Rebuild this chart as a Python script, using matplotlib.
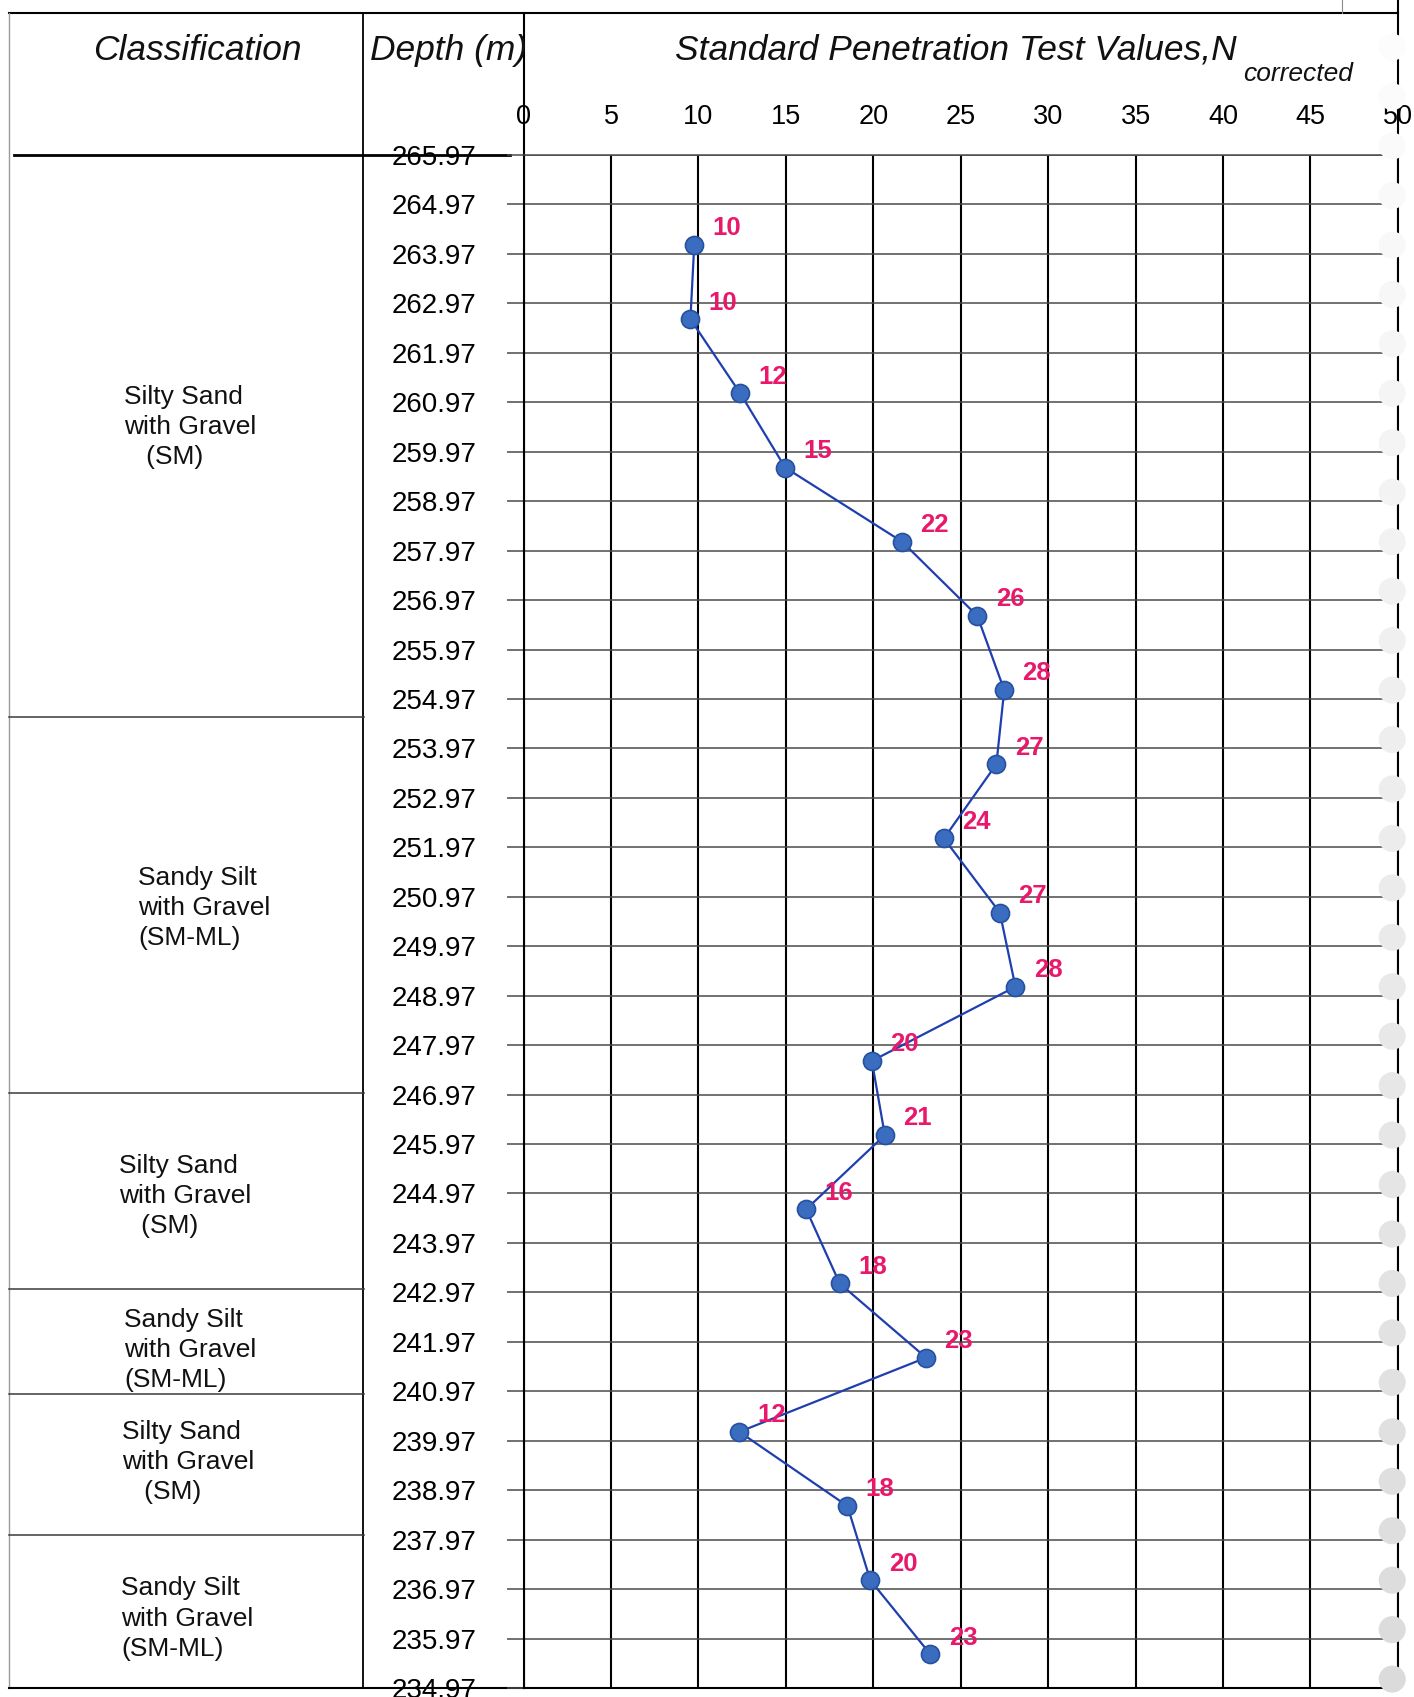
import matplotlib
matplotlib.use("Agg")
import matplotlib.pyplot as plt
from matplotlib.transforms import blended_transform_factory
import numpy as np

plt.rcParams['font.family'] = ['Liberation Sans', 'DejaVu Sans']

# ---------------- data ----------------
elevation = [264.15, 262.65, 261.15, 259.65, 258.15, 256.65, 255.15, 253.65, 252.15, 250.65,
             249.15, 247.65, 246.15, 244.65, 243.15, 241.65, 240.15, 238.65, 237.15, 235.65]
n_corrected = [9.76, 9.54, 12.39, 14.96, 21.65, 25.95, 27.49, 27.04, 24.04, 27.24,
               28.13, 19.92, 20.66, 16.16, 18.08, 23.02, 12.34, 18.52, 19.83, 23.27]
n_labels = [10, 10, 12, 15, 22, 26, 28, 27, 24, 27, 28, 20, 21, 16, 18, 23, 12, 18, 20, 23]

depth_ticks = [265.97, 264.97, 263.97, 262.97, 261.97, 260.97, 259.97, 258.97, 257.97, 256.97,
               255.97, 254.97, 253.97, 252.97, 251.97, 250.97, 249.97, 248.97, 247.97, 246.97,
               245.97, 244.97, 243.97, 242.97, 241.97, 240.97, 239.97, 238.97, 237.97, 236.97,
               235.97, 234.97]
n_ticks = [0, 5, 10, 15, 20, 25, 30, 35, 40, 45, 50]

layer_names = ["Silty Sand\nwith Gravel\n   (SM)",
               "Sandy Silt\nwith Gravel\n(SM-ML)",
               "Silty Sand\nwith Gravel\n   (SM)",
               "Sandy Silt\nwith Gravel\n(SM-ML)",
               "Silty Sand\nwith Gravel\n   (SM)",
               "Sandy Silt\nwith Gravel\n(SM-ML)"]
layer_boundaries = [254.61, 247.00, 243.03, 240.91, 238.06]

# ---------------- layout ----------------
W, H = 1414, 1697
fig = plt.figure(figsize=(W / 100, H / 100), dpi=100)

ax_left, ax_right = 523.6, 1397.8
ax_top, ax_bottom = 155.0, 1688.0
ax = fig.add_axes([ax_left / W, 1 - ax_bottom / H, (ax_right - ax_left) / W,
                   (ax_bottom - ax_top) / H])

# overlay in pixel coordinates
ov = fig.add_axes([0, 0, 1, 1], zorder=-1)
ov.set_xlim(0, W)
ov.set_ylim(H, 0)
ov.axis('off')

ax.set_xlim(0, 50)
ax.set_ylim(234.97, 265.97)
ax.set_xticks(n_ticks)
ax.set_xticklabels([str(t) for t in n_ticks])
ax.set_yticks(depth_ticks)
ax.set_yticklabels([f"{d:.2f}" for d in depth_ticks])
ax.xaxis.tick_top()
ax.tick_params(axis='x', length=0, pad=18, labelsize=19.5)
ax.tick_params(axis='y', length=12, width=1.1, color='#4a4a4a', pad=22, labelsize=20)
ax.grid(axis='x', color='black', lw=1.5)
ax.grid(axis='y', color='#4a4a4a', lw=1.1)
ax.set_axisbelow(True)
for side in ['left', 'right', 'bottom']:
    ax.spines[side].set_color('black')
    ax.spines[side].set_linewidth(1.5)
ax.spines['top'].set_color('#4a4a4a')
ax.spines['top'].set_linewidth(1.1)
ax.patch.set_alpha(0)

# data line
ax.plot(n_corrected, elevation, color='#1F3FB0', lw=1.6, marker='o', ms=13,
        mfc='#3A6CC0', mec='#25519F', mew=1.2, zorder=4)
for x, y, lab in zip(n_corrected, elevation, n_labels):
    ax.annotate(str(lab), (x, y), xytext=(23.5, 12), textcoords='offset points',
                ha='center', va='center', color='#E8196B', fontsize=18.5,
                fontweight='bold', zorder=5)

# table lines (pixel coords)
ov.plot([9, 1398], [13, 13], color='black', lw=1.5)
ov.plot([ax_left, ax_left], [13, ax_top], color='black', lw=1.5)
ov.plot([ax_right, ax_right], [0, ax_top], color='black', lw=1.5)
ov.plot([363, 363], [13, ax_bottom], color='black', lw=1.3)
ov.plot([9, 9], [13, ax_bottom], color='#9a9a9a', lw=1.0)
ov.plot([9, ax_left], [ax_bottom, ax_bottom], color='black', lw=1.5)
ov.plot([1342, 1342], [0, 13], color='#8a8a8a', lw=0.8)

# thick line across the classification / depth columns at the top elevation
blend = blended_transform_factory(ov.transData, ax.transData)
ov.plot([14, 510], [depth_ticks[0], depth_ticks[0]], color='black', lw=2.0,
        transform=blend, clip_on=False, zorder=6)

# layer boundaries
for b in layer_boundaries:
    ov.plot([9, 364], [b, b], color='#3a3a3a', lw=1.1, transform=blend, clip_on=False)

# layer labels
label_mid = [260.52, 250.79, 244.97, 241.85, 239.59, 236.42]
label_x = [124, 138, 119, 124, 122, 121]
line_step = 0.613
for name, mid, lx in zip(layer_names, label_mid, label_x):
    for k, line in enumerate(name.split('\n')):
        ov.text(lx, mid - 0.19 - (k - 1) * line_step, line, transform=blend,
                ha='left', va='baseline', fontsize=19, color='#111111')

# header texts
ov.text(197, 60, 'Classification', ha='center', va='baseline', fontsize=25.5,
        style='italic', color='#111111')
ov.text(370, 60, 'Depth (m)', ha='left', va='baseline', fontsize=25.5,
        style='italic', color='#111111')
ov.text(675, 60, 'Standard Penetration Test Values,N', ha='left', va='baseline',
        fontsize=25.5, style='italic', color='#111111')
ov.text(1243, 81, 'corrected', ha='left', va='baseline', fontsize=19,
        style='italic', color='#111111')

# binder punch-hole shadows along the right edge (scan artefact)
hole_y = np.arange(268.15, 234.5, -1.0)
nh = len(hole_y)
shade = np.linspace(0.99, 0.86, nh)
cols = [(s, s, s) for s in shade]
ax.scatter(np.full(nh, 49.68), hole_y, s=380, c=cols, edgecolors='none',
           clip_on=False, zorder=7)

fig.savefig('out.png', dpi=100)
